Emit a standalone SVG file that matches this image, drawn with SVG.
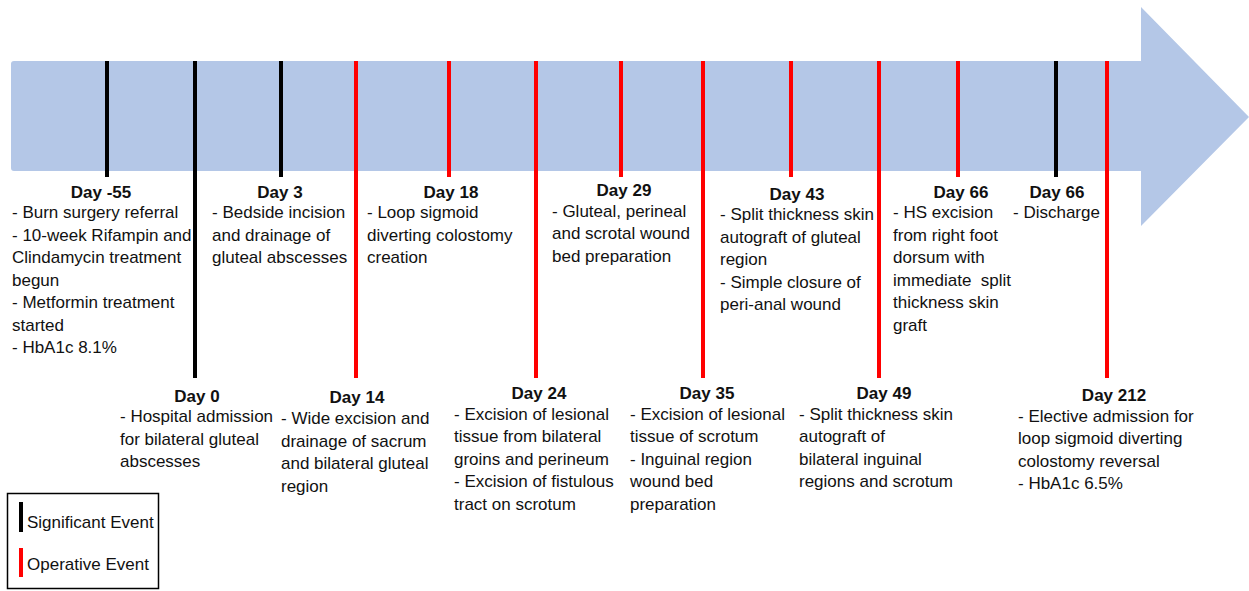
<svg xmlns="http://www.w3.org/2000/svg" width="1249" height="591" viewBox="0 0 1249 591">
  <style>
    text { font-family: "Liberation Sans", Arial, sans-serif; font-size: 17px; fill: #111; }
    .h { font-weight: bold; text-anchor: middle; }
    .sig { stroke: #000; stroke-width: 4; }
    .op { stroke: #ff0000; stroke-width: 4; }
  </style>

  <!-- timeline arrow -->
  <g id="timeline">
    <path d="M14 61 H1141 V7 L1249 117 L1141 226 V171 H14 Q11 171 11 168 V64 Q11 61 14 61 Z" fill="#b4c7e7"/>
  </g>

  <!-- event ticks -->
  <g id="ticks">
    <line class="sig" x1="107" y1="61" x2="107" y2="177"/>
    <line class="sig" x1="195" y1="61" x2="195" y2="378"/>
    <line class="sig" x1="281" y1="61" x2="281" y2="177"/>
    <line class="op" x1="356" y1="61" x2="356" y2="378"/>
    <line class="op" x1="449" y1="61" x2="449" y2="177"/>
    <line class="op" x1="536" y1="61" x2="536" y2="378"/>
    <line class="op" x1="621" y1="61" x2="621" y2="177"/>
    <line class="op" x1="703" y1="61" x2="703" y2="378"/>
    <line class="op" x1="791" y1="61" x2="791" y2="177"/>
    <line class="op" x1="879" y1="61" x2="879" y2="378"/>
    <line class="op" x1="958" y1="61" x2="958" y2="177"/>
    <line class="sig" x1="1056" y1="61" x2="1056" y2="177"/>
    <line class="op" x1="1107" y1="61" x2="1107" y2="378"/>
  </g>

  <!-- events above the axis -->
  <g id="day-minus55">
    <text class="h" x="101" y="198">Day -55</text>
    <text x="12" y="218">- Burn surgery referral</text>
    <text x="12" y="240.5">- 10-week Rifampin and</text>
    <text x="12" y="263">Clindamycin treatment</text>
    <text x="12" y="285.5">begun</text>
    <text x="12" y="308">- Metformin treatment</text>
    <text x="12" y="330.5">started</text>
    <text x="12" y="353">- HbA1c 8.1%</text>
  </g>
  <g id="day3">
    <text class="h" x="280" y="198">Day 3</text>
    <text x="212" y="218">- Bedside incision</text>
    <text x="212" y="240.5">and drainage of</text>
    <text x="212" y="263">gluteal abscesses</text>
  </g>
  <g id="day18">
    <text class="h" x="451" y="198">Day 18</text>
    <text x="367" y="218">- Loop sigmoid</text>
    <text x="367" y="240.5">diverting colostomy</text>
    <text x="367" y="263">creation</text>
  </g>
  <g id="day29">
    <text class="h" x="624" y="196">Day 29</text>
    <text x="552" y="216.5">- Gluteal, perineal</text>
    <text x="552" y="239">and scrotal wound</text>
    <text x="552" y="261.5">bed preparation</text>
  </g>
  <g id="day43">
    <text class="h" x="797" y="200">Day 43</text>
    <text x="720" y="220">- Split thickness skin</text>
    <text x="720" y="242.5">autograft of gluteal</text>
    <text x="720" y="265">region</text>
    <text x="720" y="287.5">- Simple closure of</text>
    <text x="720" y="310">peri-anal wound</text>
  </g>
  <g id="day66-op">
    <text class="h" x="961" y="198">Day 66</text>
    <text x="893" y="218">- HS excision</text>
    <text x="893" y="240.5">from right foot</text>
    <text x="893" y="263">dorsum with</text>
    <text x="893" y="285.5" xml:space="preserve">immediate  split</text>
    <text x="893" y="308">thickness skin</text>
    <text x="893" y="330.5">graft</text>
  </g>
  <g id="day66-discharge">
    <text class="h" x="1057" y="198">Day 66</text>
    <text x="1013" y="218">- Discharge</text>
  </g>

  <!-- events below the axis -->
  <g id="day0">
    <text class="h" x="197" y="401.5">Day 0</text>
    <text x="120" y="422">- Hospital admission</text>
    <text x="120" y="444.5">for bilateral gluteal</text>
    <text x="120" y="467">abscesses</text>
  </g>
  <g id="day14">
    <text class="h" x="357" y="402.5">Day 14</text>
    <text x="281" y="424">- Wide excision and</text>
    <text x="281" y="446.5">drainage of sacrum</text>
    <text x="281" y="469">and bilateral gluteal</text>
    <text x="281" y="491.5">region</text>
  </g>
  <g id="day24">
    <text class="h" x="539" y="398.5">Day 24</text>
    <text x="454" y="419.5">- Excision of lesional</text>
    <text x="454" y="442">tissue from bilateral</text>
    <text x="454" y="464.5">groins and perineum</text>
    <text x="454" y="487">- Excision of fistulous</text>
    <text x="454" y="509.5">tract on scrotum</text>
  </g>
  <g id="day35">
    <text class="h" x="707" y="398.5">Day 35</text>
    <text x="630" y="419.5">- Excision of lesional</text>
    <text x="630" y="442">tissue of scrotum</text>
    <text x="630" y="464.5">- Inguinal region</text>
    <text x="630" y="487">wound bed</text>
    <text x="630" y="509.5">preparation</text>
  </g>
  <g id="day49">
    <text class="h" x="884" y="398.5">Day 49</text>
    <text x="799" y="419.5">- Split thickness skin</text>
    <text x="799" y="442">autograft of</text>
    <text x="799" y="464.5">bilateral inguinal</text>
    <text x="799" y="487">regions and scrotum</text>
  </g>
  <g id="day212">
    <text class="h" x="1114" y="401">Day 212</text>
    <text x="1018" y="421.5">- Elective admission for</text>
    <text x="1018" y="444">loop sigmoid diverting</text>
    <text x="1018" y="466.5">colostomy reversal</text>
    <text x="1018" y="489">- HbA1c 6.5%</text>
  </g>

  <!-- legend -->
  <g id="legend">
    <rect x="7.5" y="493.5" width="151" height="95" fill="#fff" stroke="#000" stroke-width="1.5"/>
    <line class="sig" x1="21" y1="502" x2="21" y2="532"/>
    <text x="27" y="528">Significant Event</text>
    <line class="op" x1="21" y1="548" x2="21" y2="577"/>
    <text x="27" y="570">Operative Event</text>
  </g>
</svg>
